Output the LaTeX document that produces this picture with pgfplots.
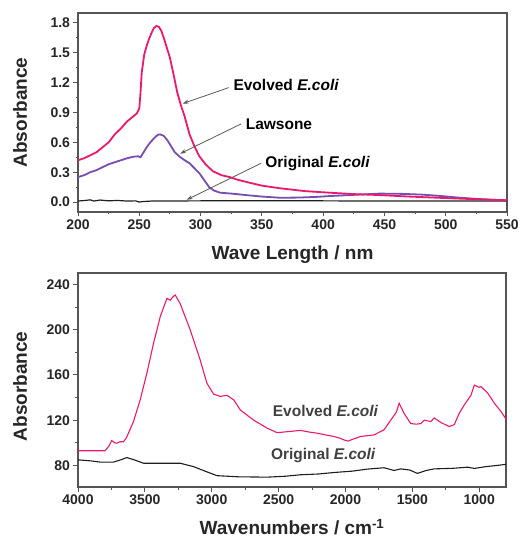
\documentclass[border=0pt]{standalone}
\usepackage{fontspec}
\setmainfont{Liberation Sans}
\usepackage{pgfplots}
\pgfplotsset{compat=1.18}
\usetikzlibrary{arrows.meta}
\definecolor{EvoRed}{RGB}{235,25,110}
\definecolor{LawPurple}{RGB}{118,78,178}
\definecolor{OrigBlack}{RGB}{30,30,30}
\definecolor{AxGray}{RGB}{85,85,85}
\pgfplotsset{
  spec/.style={
    scale only axis, anchor=south west,
    axis line style={draw=AxGray, line width=1.1pt},
    tick align=outside, xtick pos=bottom, ytick pos=left,
    major tick length=4.5pt, minor tick length=2.5pt,
    every tick/.style={AxGray, line width=0.9pt},
    tick label style={font=\fontsize{14}{16}\selectfont\bfseries, text=black!85},
    label style={font=\fontsize{19}{22}\selectfont\bfseries, text=black!85},
    /pgf/number format/assume math mode=true,
    minor x tick num=1, minor y tick num=1,
  },
}
\tikzset{
  ann/.style={font=\fontsize{15.5}{18}\selectfont\bfseries},
  pointer/.style={-{Stealth[length=6pt,width=4pt]}, black!65, line width=0.8pt},
}
\begin{document}
\begin{tikzpicture}
\useasboundingbox (0,0) rectangle (519pt,540pt);
% UV-vis
\begin{axis}[spec,
  at={(78pt,328pt)}, width=429pt, height=199pt,
  xmin=200, xmax=550, ymin=-0.1, ymax=1.9,
  xtick={200,250,...,550},
  ytick={0,0.3,0.6,0.9,1.2,1.5,1.8},
  yticklabel style={/pgf/number format/.cd, fixed, fixed zerofill, precision=1},
  xlabel={Wave Length / nm}, ylabel={Absorbance},
  xlabel style={at={(axis description cs:0.5,-0.215)}, anchor=center},
  ylabel style={at={(axis description cs:-0.135,0.5)}, anchor=center},
]
\addplot[OrigBlack, line width=1.2pt] coordinates {
(200,0.01)(205,0.015)(210,0.022)(213,0.01)(218,0.02)(225,0.012)(232,0.016)(240,0.01)(247,0.012)(250,0.0)(253,0.005)(260,0.01)(300,0.012)(350,0.012)(400,0.012)(450,0.01)(500,0.01)(550,0.01)
};
\addplot[LawPurple, line width=1.8pt] coordinates {
(200,0.25)(205,0.27)(210,0.30)(215,0.32)(220,0.35)(225,0.38)(230,0.40)(235,0.42)(240,0.44)(245,0.455)(249,0.46)(251,0.45)(253,0.49)(256,0.55)(259,0.60)(262,0.64)(265,0.675)(267,0.68)(270,0.665)(273,0.62)(276,0.56)(279,0.50)(283,0.455)(287,0.42)(291,0.39)(295,0.34)(299,0.29)(303,0.22)(307,0.15)(311,0.115)(316,0.094)(325,0.085)(337,0.07)(350,0.055)(365,0.043)(380,0.045)(395,0.052)(405,0.06)(425,0.072)(446,0.085)(465,0.082)(480,0.075)(495,0.062)(510,0.045)(525,0.032)(540,0.022)(550,0.018)
};
\addplot[EvoRed, line width=1.8pt] coordinates {
(200,0.42)(205,0.44)(210,0.47)(215,0.50)(220,0.55)(225,0.60)(230,0.68)(235,0.74)(240,0.81)(245,0.86)(248,0.89)(250,0.94)(251,1.10)(252,1.30)(254,1.48)(256,1.57)(258,1.64)(260,1.70)(262,1.75)(264,1.77)(266,1.76)(268,1.72)(270,1.65)(272,1.57)(275,1.45)(278,1.28)(281,1.10)(284,0.97)(287,0.86)(291,0.68)(295,0.56)(299,0.46)(304,0.38)(310,0.31)(317,0.27)(324,0.25)(330,0.225)(338,0.20)(350,0.165)(365,0.138)(385,0.11)(405,0.094)(425,0.08)(446,0.07)(470,0.055)(500,0.04)(525,0.028)(550,0.018)
};
\node[ann, anchor=west] at (axis cs:324,1.18) {Evolved \textit{E.coli}};
\draw[pointer] (axis cs:323,1.15) -- (axis cs:285.5,0.99);
\node[ann, anchor=west] at (axis cs:334,0.785) {Lawsone};
\draw[pointer] (axis cs:333,0.785) -- (axis cs:283.3,0.486);
\node[ann, anchor=west] at (axis cs:350,0.39) {Original \textit{E.coli}};
\draw[pointer] (axis cs:349.4,0.39) -- (axis cs:288.7,0.023);
\end{axis}
% FTIR
\begin{axis}[spec,
  at={(78pt,53pt)}, width=428pt, height=214pt,
  x dir=reverse, xmin=800, xmax=4000, ymin=61, ymax=250,
  xtick={1000,1500,...,4000}, ytick={80,120,...,240},
  xticklabel style={/pgf/number format/set thousands separator={}},
  xlabel={Wavenumbers / cm\textsuperscript{-1}}, ylabel={Absorbance},
  xlabel style={at={(axis description cs:0.5,-0.187)}, anchor=center},
  ylabel style={at={(axis description cs:-0.1355,0.47)}, anchor=center},
]
\addplot[OrigBlack, line width=1.1pt] coordinates {
(4000,85)(3900,84)(3835,83)(3735,83)(3680,85)(3635,87)(3580,85)(3510,82)(3400,82)(3300,82)(3236,82)(3136,79)(3050,75)(2961,71)(2800,70)(2586,69.7)(2450,70.5)(2336,71.8)(2200,72.5)(2086,73.8)(1950,75)(1837,76.8)(1712,78)(1637,75.6)(1587,77)(1520,76)(1462,73)(1400,75.5)(1337,77)(1200,77.5)(1087,78.5)(1037,77.4)(950,79)(870,80)(800,81)
};
\addplot[EvoRed, line width=1.1pt] coordinates {
(4000,93)(3900,93)(3798,93)(3770,97)(3748,102)(3725,100)(3710,99.7)(3685,101)(3660,101)(3640,104)(3623,108.5)(3585,118.8)(3535,138)(3485,161.5)(3435,188)(3385,211.5)(3335,227.6)(3310,226)(3290,229)(3273,230.6)(3236,223)(3161,199.7)(3086,173)(3036,152.6)(2986,143)(2936,141)(2886,142)(2836,138)(2786,129)(2686,120)(2586,113)(2511,109)(2420,110)(2336,111)(2270,109.5)(2211,108.5)(2150,107)(2086,105.6)(2040,104)(2011,102.6)(1980,101.5)(1950,103)(1887,105.6)(1787,107)(1712,111.5)(1662,120)(1620,127)(1599,135)(1562,126)(1512,117)(1470,116.5)(1437,117)(1412,120)(1362,118.8)(1337,122)(1287,118)(1225,114.4)(1187,116)(1150,126)(1112,133.5)(1062,142)(1037,151)(1000,149)(987,149.7)(937,144)(887,135)(837,127.6)(800,121)
};
\node[ann, text=black!75] at (axis cs:2149,128.5) {Evolved \textit{E.coli}};
\node[ann, text=black!75] at (axis cs:2166,88.8) {Original \textit{E.coli}};
\end{axis}
\end{tikzpicture}
\end{document}
